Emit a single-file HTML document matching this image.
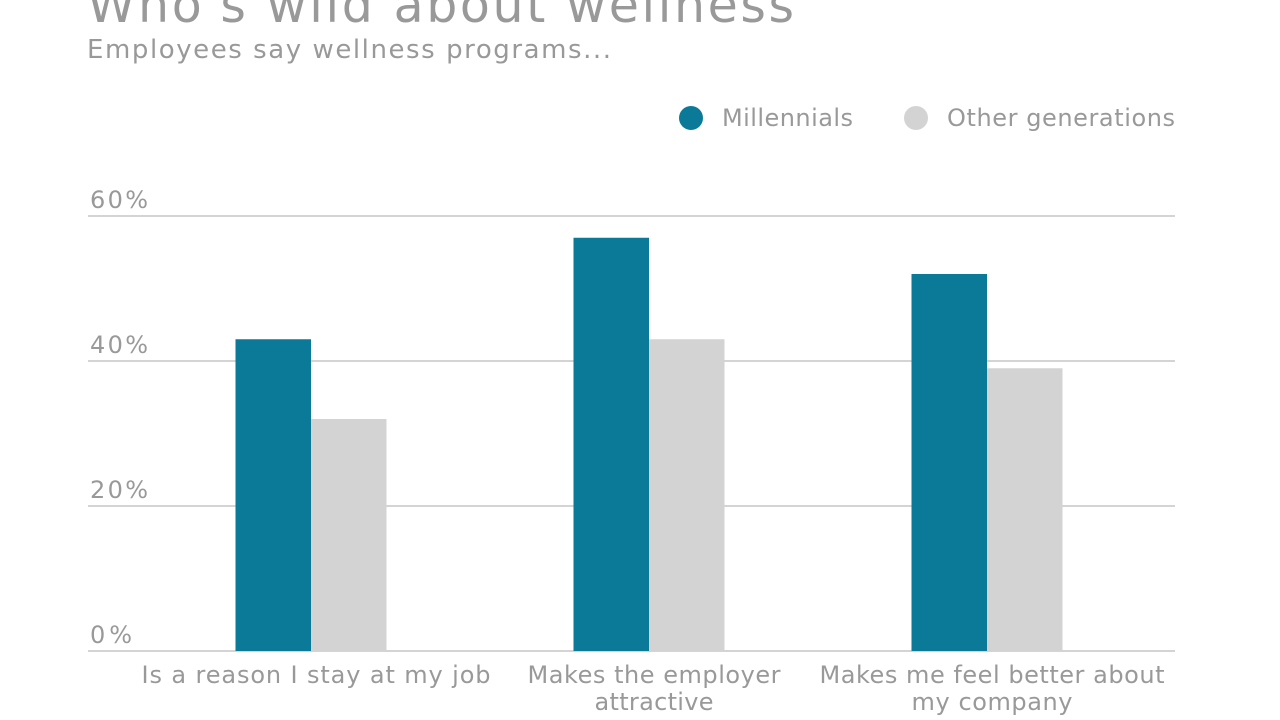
<!DOCTYPE html>
<html><head><meta charset="utf-8"><style>
html,body{margin:0;padding:0;background:#fff;width:1280px;height:720px;overflow:hidden}
svg text{font-family:"DejaVu Sans","Liberation Sans",sans-serif;fill:#999}
</style></head><body>
<svg width="1280" height="720" id="chart">
<text x="87" y="22" font-size="49" textLength="707" lengthAdjust="spacing">Who's wild about wellness</text>
<text x="87" y="58" font-size="26" textLength="524" lengthAdjust="spacing">Employees say wellness programs...</text>
<g>
<circle cx="691" cy="118" r="12" fill="#0b7a99"/>
<text x="722" y="126" font-size="24" textLength="131" lengthAdjust="spacing">Millennials</text>
<circle cx="916" cy="118" r="12" fill="#d4d3d4"/>
<text x="947" y="126" font-size="24" textLength="228" lengthAdjust="spacing">Other generations</text>
</g>
<g id="grid"></g><g id="bars"></g><g id="labels"></g>
</svg>
<script>
const categories = [["Is a reason I stay at my job"],["Makes the employer","attractive"],["Makes me feel better about","my company"]];
const millennials = [43, 57, 52];
const others = [32, 43, 39];
const ticks = [0, 20, 40, 60];
const tickLabels = ["0%","20%","40%","60%"];
const labelWidths = [[349],[253,119],[345,161]];
const NS="http://www.w3.org/2000/svg";
const y = v => 651 - v*7.25;
const cx = i => 311 + i*338;
const bw = 75.5;
function mk(t,a,p){const e=document.createElementNS(NS,t);for(const k in a)e.setAttribute(k,a[k]);p.appendChild(e);return e;}
const grid=document.getElementById('grid'),bars=document.getElementById('bars'),labels=document.getElementById('labels');
ticks.forEach((t,i)=>{
  const l=mk('line',{x1:88,x2:1175,y1:y(t),y2:y(t),stroke:'#a8a8a8','stroke-width':1},grid);
  
  
  const tx=mk('text',{x:90,y:y(t)-8,'font-size':24,textLength:tickLabels[i].length===2?42:58,lengthAdjust:'spacing'},grid);
  tx.textContent=tickLabels[i];
  
  
});
categories.forEach((c,i)=>{
  const r1=mk('rect',{x:cx(i)-bw,y:y(millennials[i]),width:bw,height:y(0)-y(millennials[i]),fill:'#0b7a99'},bars);
  
  
  const r2=mk('rect',{x:cx(i),y:y(others[i]),width:bw,height:y(0)-y(others[i]),fill:'#d4d3d4'},bars);
  
  
  c.forEach((line,j)=>{
    const t=mk('text',{x:cx(i)+5,y:683+j*27,'font-size':24,'text-anchor':'middle',textLength:labelWidths[i][j],lengthAdjust:'spacing'},labels);
    t.textContent=line;
    
    
  });
});
</script>
</body></html>
